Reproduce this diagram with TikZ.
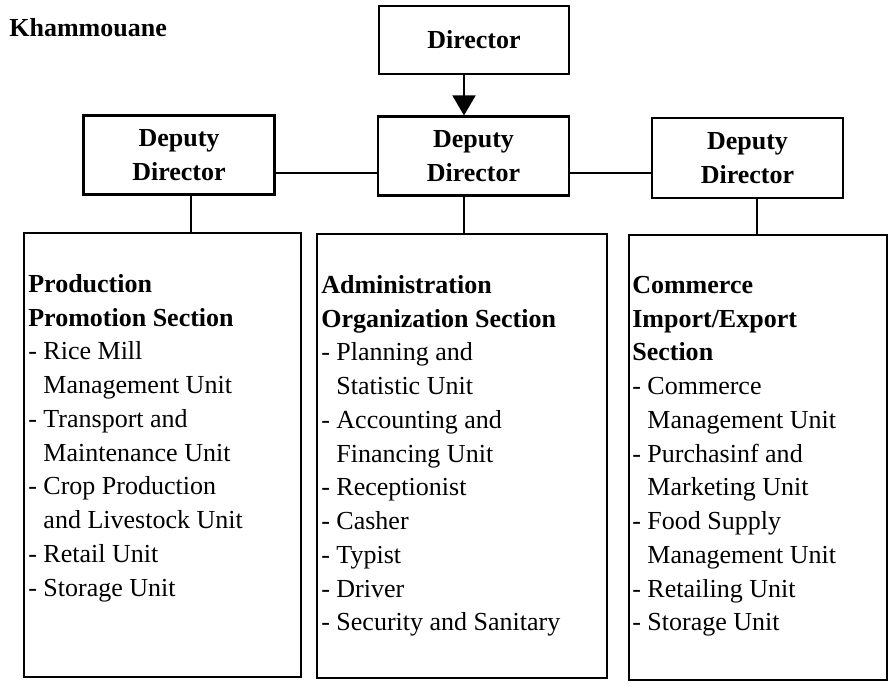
\documentclass[tikz,border=0pt]{standalone}
\usepackage{fontspec}
\setmainfont{Liberation Serif}
\usepackage{tikz}
\usetikzlibrary{positioning, arrows.meta}
\newcommand{\subind}{\hphantom{- }}

\tikzset{
	txt/.style={font=\fontsize{14.8}{19.2}\selectfont},
	titlebox/.style={txt, draw, line width=1.2pt, align=center, font=\fontsize{14.8}{19.2}\selectfont\bfseries},
	deputybox/.style={titlebox, minimum width=3.82cm, minimum height=1.58cm},
	secbox/.style={draw, line width=1.2pt, minimum height=8.88cm},
	sectext/.style={txt, align=left, inner sep=0pt},
	conn/.style={line width=1pt},
}

\begin{document}
\begin{tikzpicture}
	\useasboundingbox (0,0) rectangle (17.8,-13.72);
	% Top
	\node[txt, anchor=base west, inner sep=0pt, font=\fontsize{14.8}{19.2}\selectfont\bfseries] (prov) at (0.18,-0.74) {Khammouane};
	\node[titlebox, minimum width=3.8cm, minimum height=1.36cm] (dir) at (9.48,-0.8) {Director};
	% Deputy directors
	\node[deputybox] (dep1) at (3.58,-3.1) {Deputy\\Director};
	\node[deputybox] (dep2) at (9.47,-3.12) {Deputy\\Director};
	\node[deputybox, minimum height=1.6cm] (dep3) at (14.95,-3.16) {Deputy\\Director};
	% Sections
	\node[secbox, minimum width=5.54cm] (sec1) at (3.25,-9.1) {};
	\node[secbox, minimum width=5.8cm] (sec2) at (9.24,-9.12) {};
	\node[secbox, minimum width=5.16cm, minimum height=8.9cm] (sec3) at (15.16,-9.15) {};
	\node[sectext, below right=0.84cm and 0.1cm of sec1.north west] (sec1txt) {\textbf{Production}\\
		\textbf{Promotion Section}\\
		- Rice Mill\\
		\subind Management Unit\\
		- Transport and\\
		\subind Maintenance Unit\\
		- Crop Production\\
		\subind and Livestock Unit\\
		- Retail Unit\\
		- Storage Unit};
	\node[sectext, below right=0.84cm and 0.1cm of sec2.north west] (sec2txt) {\textbf{Administration}\\
		\textbf{Organization Section}\\
		- Planning and\\
		\subind Statistic Unit\\
		- Accounting and\\
		\subind Financing Unit\\
		- Receptionist\\
		- Casher\\
		- Typist\\
		- Driver\\
		- Security and Sanitary};
	\node[sectext, below right=0.84cm and 0.08cm of sec3.north west] (sec3txt) {\textbf{Commerce}\\
		\textbf{Import/Export}\\
		\textbf{Section}\\
		- Commerce\\
		\subind Management Unit\\
		- Purchasinf and\\
		\subind Marketing Unit\\
		- Food Supply\\
		\subind Management Unit\\
		- Retailing Unit\\
		- Storage Unit};
	% Connectors
	\coordinate (lv1) at (3.82,0);
	\coordinate (lv2) at (9.28,0);
	\coordinate (lv3) at (15.14,0);
	\coordinate (hl) at (0,-3.46);
	\draw[conn, -{Triangle[length=0.4cm, width=0.46cm]}] (dir.south -| lv2) -- (dep2.north -| lv2);
	\draw[conn] (dep1.east |- hl) -- (dep2.west |- hl);
	\draw[conn] (dep2.east |- hl) -- (dep3.west |- hl);
	\draw[conn] (dep1.south -| lv1) -- (sec1.north -| lv1);
	\draw[conn] (dep2.south -| lv2) -- (sec2.north -| lv2);
	\draw[conn] (dep3.south -| lv3) -- (sec3.north -| lv3);
\end{tikzpicture}
\end{document}
